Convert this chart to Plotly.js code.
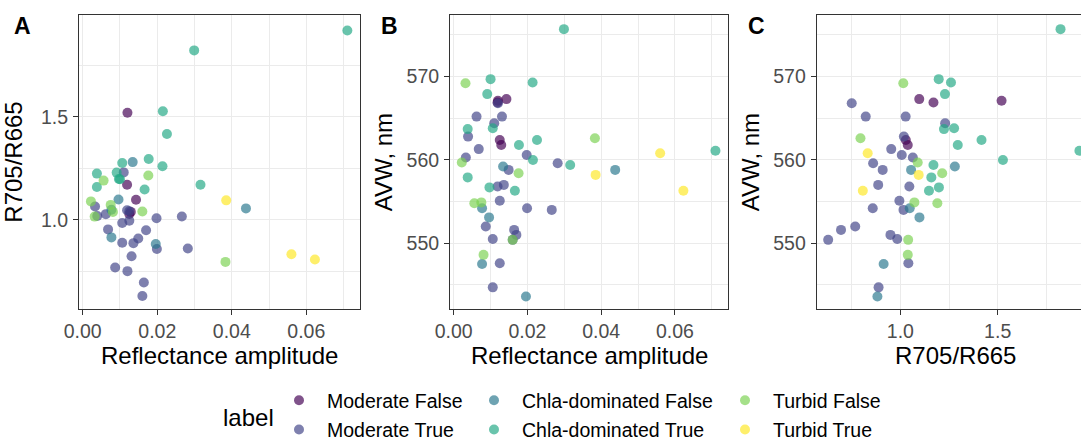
<!DOCTYPE html>
<html>
<head>
<meta charset="utf-8">
<script src="https://cdn.plot.ly/plotly-3.0.1.min.js"></script>
<style>
html,body{margin:0;padding:0;overflow:hidden;background:#fff;width:1081px;height:441px;}
#chart{width:1100px;height:470px;}
</style>
</head>
<body>
<div id="chart"></div>
<script>
// ---- data ----
const groups = ["Moderate False","Moderate True","Chla-dominated False","Chla-dominated True","Turbid False","Turbid True"];
const groupColors = ["#440154","#414487","#2A788E","#22A884","#7AD151","#FDE725"];

const pointGroup = [
  "Moderate False","Moderate False","Moderate False","Moderate False","Moderate False",
  "Moderate True","Moderate True","Moderate True","Moderate True","Moderate True","Moderate True",
  "Moderate True","Moderate True","Moderate True","Moderate True","Moderate True","Moderate True",
  "Moderate True","Moderate True","Moderate True","Moderate True","Moderate True","Moderate True",
  "Moderate True","Moderate True","Moderate True","Moderate True",
  "Chla-dominated False","Chla-dominated False","Chla-dominated False","Chla-dominated False","Chla-dominated False","Chla-dominated False",
  "Chla-dominated True","Chla-dominated True","Chla-dominated True","Chla-dominated True","Chla-dominated True","Chla-dominated True","Chla-dominated True",
  "Chla-dominated True","Chla-dominated True","Chla-dominated True","Chla-dominated True","Chla-dominated True","Chla-dominated True","Chla-dominated True",
  "Turbid False","Turbid False","Turbid False","Turbid False","Turbid False","Turbid False","Turbid False","Turbid False",
  "Turbid True","Turbid True","Turbid True"
];
const amplitude = [
  0.0120,0.0119,0.0143,0.0125,0.0129,
  0.0120,0.0087,0.0164,0.0160,0.0131,0.0062,0.0110,0.0039,0.0068,0.0198,0.0033,
  0.0282,0.0149,0.0136,0.0119,0.0125,0.0266,0.0199,0.0170,0.0106,0.0125,0.0106,
  0.0134,0.0438,0.0077,0.0096,0.0077,0.0196,
  0.0299,0.0710,0.0215,0.0226,0.0177,0.0106,0.0214,0.0038,0.0091,0.0100,0.0097,0.0316,0.0038,0.0166,
  0.0383,0.0176,0.0056,0.0022,0.0075,0.0160,0.0081,0.0032,
  0.0385,0.0560,0.0623
];
const ratio = [
  1.520,1.170,1.097,1.028,1.038,
  0.750,0.768,0.695,0.629,0.822,1.027,1.230,1.018,0.953,1.007,1.064,
  0.860,0.909,0.886,1.046,0.995,1.016,0.858,0.949,0.984,1.041,0.888,
  1.280,1.055,1.048,1.098,0.914,0.882,
  1.823,1.920,1.527,1.417,1.295,1.276,1.260,1.224,1.229,1.197,1.198,1.170,1.159,1.147,
  0.795,1.215,1.190,1.089,1.072,1.040,1.038,1.015,
  1.094,0.832,0.807
];
const avw = [
  567.1,566.9,567.3,562.4,561.8,
  566.8,552.0,551.6,550.4,565.2,565.2,564.4,562.8,561.3,560.6,560.3,
  559.6,558.8,557.0,556.8,555.1,554.0,554.2,551.0,550.5,547.6,544.7,
  559.2,558.8,554.2,553.1,547.5,543.6,
  575.7,561.1,560.0,562.4,561.8,563.8,569.3,563.7,567.9,569.7,556.7,559.4,557.9,556.3,
  562.6,558.4,554.8,559.7,554.9,550.4,548.6,569.2,
  558.2,560.8,556.3
];
const ampTicks = [0, 0.02, 0.04, 0.06];
const ampTickText = ["0.00","0.02","0.04","0.06"];
const ratioTicks = [1.0, 1.5];
const ratioTickText = ["1.0","1.5"];
const avwTicks = [550, 560, 570];
const avwTickText = ["550","560","570"];
const panelLetters = ["A","B","C"];
const xTitles = ["Reflectance amplitude","Reflectance amplitude","R705/R665"];
const yTitles = ["R705/R665","AVW, nm","AVW, nm"];

// ---- build ----
const W = 1100, H = 470;
const FONT = "Arial, 'Liberation Sans', sans-serif";
const legendOf = ["legend","legend","legend2","legend2","legend3","legend3"];
const panels = [
  {xs: amplitude, ys: ratio, xa: "x", ya: "y"},
  {xs: amplitude, ys: avw, xa: "x2", ya: "y2"},
  {xs: ratio, ys: avw, xa: "x3", ya: "y3"}
];
const traces = [];
panels.forEach((p, pi) => {
  groups.forEach((g, gi) => {
    const idx = pointGroup.map((v, i) => v === g ? i : -1).filter(i => i >= 0);
    traces.push({
      type: "scatter", mode: "markers", name: g,
      x: idx.map(i => p.xs[i]), y: idx.map(i => p.ys[i]),
      xaxis: p.xa, yaxis: p.ya,
      legend: legendOf[gi], legendgroup: g, showlegend: pi === 0,
      marker: {color: groupColors[gi], size: 10, opacity: 0.68, line: {width: 0}},
      hoverinfo: "x+y+name"
    });
  });
});

const py = px => 1 - px / H;
const yTop = py(15), yBot = py(309);
function axisBase(extra) {
  return Object.assign({
    showline: true, mirror: true, linecolor: "#333333", linewidth: 1,
    ticks: "outside", ticklen: 5, tickwidth: 1, tickcolor: "#333333",
    showgrid: true, gridcolor: "#EBEBEB", gridwidth: 1.1,
    zeroline: false, tickmode: "array",
    tickfont: {family: FONT, size: 19.5, color: "#4D4D4D"},
    automargin: false
  }, extra);
}
function minorGrid(vals) {
  return {tickvals: vals, showgrid: true, gridcolor: "#EBEBEB", gridwidth: 0.6, ticklen: 0};
}
const titleFont = {family: FONT, size: 24, color: "#000000"};
function legendAt(xpx) {
  return {orientation: "v", x: xpx / W, xanchor: "left", y: py(381), yanchor: "top",
    font: {family: FONT, size: 19.5, color: "#000"}, bgcolor: "rgba(0,0,0,0)",
    traceorder: "grouped", tracegroupgap: 1, itemwidth: 46};
}
function xAxis(domain, anchor, range, vals, text, minorVals) {
  return axisBase({domain: domain, anchor: anchor, range: range,
    ticklabelstandoff: 0, tickvals: vals, ticktext: text, minor: minorGrid(minorVals)});
}
function yAxis(domain, anchor, range, vals, text, minorVals, title) {
  return axisBase({domain: domain, anchor: anchor, range: range,
    ticklabelstandoff: 1, tickvals: vals, ticktext: text, minor: minorGrid(minorVals),
    title: {text: title, font: titleFont}});
}
const xDomains = [[79 / W, 360 / W], [450 / W, 728 / W], [816.7 / W, 1094 / W]];

const layout = {
  width: W, height: H, autosize: false,
  margin: {l: 0, r: 0, t: 0, b: 0},
  paper_bgcolor: "#ffffff", plot_bgcolor: "#ffffff",
  font: {family: FONT},
  showlegend: true,
  xaxis: xAxis(xDomains[0], "y", [-0.0010, 0.0744], ampTicks, ampTickText, [0.01, 0.03, 0.05, 0.07]),
  yaxis: yAxis([yBot, yTop], "x", [0.566, 1.995], ratioTicks, ratioTickText, [0.75, 1.25, 1.75], yTitles[0]),
  xaxis2: xAxis(xDomains[1], "y2", [-0.0010, 0.0744], ampTicks, ampTickText, [0.01, 0.03, 0.05, 0.07]),
  yaxis2: yAxis([yBot, yTop], "x2", [542.1, 577.4], avwTicks, avwTickText, [545, 555, 565, 575], yTitles[1]),
  xaxis3: xAxis(xDomains[2], "y3", [0.570, 1.995], ratioTicks, ratioTickText, [0.75, 1.25, 1.75]),
  yaxis3: yAxis([yBot, yTop], "x3", [542.1, 577.4], avwTicks, avwTickText, [545, 555, 565, 575], yTitles[2]),
  legend: legendAt(271),
  legend2: legendAt(466),
  legend3: legendAt(717),
  annotations: [
    {text: "label", xref: "paper", yref: "paper", x: 248.5 / W, y: py(417),
     xanchor: "center", yanchor: "middle", showarrow: false, font: {family: FONT, size: 24, color: "#000"}}
  ].concat([12, 379, 746].map((xp, i) => ({
     text: "<b>" + panelLetters[i] + "</b>", xref: "paper", yref: "paper", x: xp / W, y: py(26),
     xanchor: "left", yanchor: "middle", showarrow: false, font: {family: FONT, size: 23, color: "#000"}})))
   .concat(xDomains.map((d, i) => ({
     text: xTitles[i], xref: "paper", yref: "paper", x: (d[0] + d[1]) / 2, y: py(355),
     xanchor: "center", yanchor: "middle", showarrow: false, font: titleFont})))
};

Plotly.newPlot("chart", traces, layout, {displayModeBar: false, responsive: false});
</script>
</body>
</html>
